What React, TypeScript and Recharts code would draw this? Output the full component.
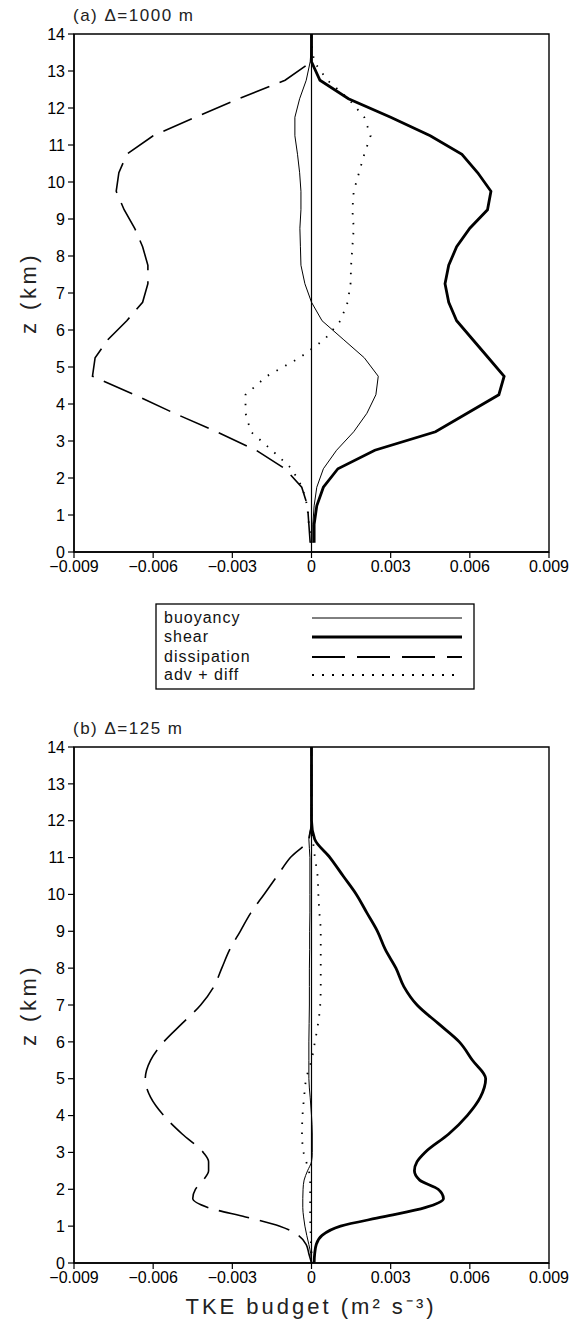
import React from 'react';
import { LineChart, Line, XAxis, YAxis, ReferenceLine, ReferenceArea } from 'recharts';

// ---------- Panel (a) Δ=1000 m ----------
const zA = [0.25, 0.75, 1.25, 1.75, 2.25, 2.75, 3.25, 3.75, 4.25, 4.75, 5.25, 5.75, 6.25, 6.75, 7.25, 7.75, 8.25, 8.75, 9.25, 9.75, 10.25, 10.75, 11.25, 11.75, 12.25, 12.75, 13.25, 13.75, 14];
const buoyA = [0.00005, 0.00005, 0.0001, 0.0002, 0.00045, 0.00095, 0.0016, 0.0021, 0.00244, 0.00253, 0.002, 0.0012, 0.0004, 0.0, -0.00025, -0.0004, -0.00042, -0.00044, -0.0004, -0.0004, -0.00045, -0.00053, -0.00063, -0.00063, -0.00045, -0.0002, -0.00005, 0, 0];
const shearA = [0.0001, 0.0001, 0.0002, 0.00045, 0.001, 0.0024, 0.0047, 0.0059, 0.0071, 0.0073, 0.0067, 0.0061, 0.0055, 0.0052, 0.00506, 0.0052, 0.0055, 0.006, 0.00667, 0.0068, 0.0063, 0.0057, 0.0045, 0.003, 0.0014, 0.00032, 0, 0, 0];
const dissA = [-0.00005, -0.0001, -0.00015, -0.00037, -0.001, -0.0021, -0.0036, -0.0052, -0.0067, -0.0083, -0.0082, -0.0077, -0.007, -0.0064, -0.0062, -0.0062, -0.0064, -0.0067, -0.0071, -0.0074, -0.0073, -0.007, -0.006, -0.0044, -0.00275, -0.001, 0, 0, 0];
const advA = [0, -0.0001, -0.00016, -0.00035, -0.00075, -0.0015, -0.0023, -0.0025, -0.0025, -0.0017, -0.00045, 0.0005, 0.0011, 0.00137, 0.00148, 0.0015, 0.00155, 0.0016, 0.00155, 0.0016, 0.0018, 0.002, 0.00224, 0.002, 0.0014, 0.0006, 0.0001, 0, 0];

// ---------- Panel (b) Δ=125 m ----------
const zB = [0, 0.25, 0.5, 0.75, 1.0, 1.25, 1.5, 1.75, 2.0, 2.25, 2.5, 2.75, 3.0, 3.5, 4.0, 4.5, 5.0, 5.5, 6.0, 6.5, 7.0, 7.5, 8.0, 8.5, 9.0, 9.5, 10.0, 10.5, 11.0, 11.5, 12.0, 13.0, 14.0];
const buoyB = [0, -0.00003, -0.0001, -0.00018, -0.00025, -0.0003, -0.00033, -0.00033, -0.00032, -0.00028, -0.00015, 0, 0.00003, 0.00003, 0, -0.00005, -0.0001, -0.0001, -0.0001, -0.00009, -0.00008, -0.00008, -0.00008, -0.00007, -0.00007, -0.00006, -0.00006, -0.00006, -0.00006, -0.0001, 0, 0, 0];
const shearB = [0.0001, 0.00012, 0.00018, 0.0004, 0.0011, 0.0027, 0.0043, 0.005, 0.0048, 0.0041, 0.0039, 0.004, 0.0043, 0.0052, 0.0059, 0.0064, 0.0066, 0.0061, 0.0056, 0.0048, 0.004, 0.0035, 0.0032, 0.0028, 0.0025, 0.0021, 0.0017, 0.0012, 0.0007, 0.00012, 0, 0, 0];
const dissB = [0, -0.0001, -0.0002, -0.0005, -0.0012, -0.0025, -0.0039, -0.0045, -0.0044, -0.0041, -0.0039, -0.0039, -0.0041, -0.0049, -0.0056, -0.0061, -0.0063, -0.0061, -0.0056, -0.0049, -0.0042, -0.0037, -0.0034, -0.0031, -0.0027, -0.0023, -0.0018, -0.0013, -0.0008, -0.0001, 0, 0, 0];
const advB = [0, 0, -0.00002, -0.00003, -0.00004, -0.00005, -0.00005, -0.00005, -0.00005, -0.00005, -0.0001, -0.0002, -0.0003, -0.00036, -0.00034, -0.00028, -0.0002, 0, 0.00013, 0.00025, 0.00033, 0.00035, 0.00035, 0.00035, 0.00035, 0.0003, 0.00026, 0.00023, 0.00013, 0.00005, 0, 0, 0];

// ---------- Axes & labels ----------
const xTicks = [-0.009, -0.006, -0.003, 0, 0.003, 0.006, 0.009];
const zTicks = [0, 1, 2, 3, 4, 5, 6, 7, 8, 9, 10, 11, 12, 13, 14];
const titleA = '(a) Δ=1000 m';
const titleB = '(b) Δ=125 m';
const yLabel = 'z (km)';
const seriesNames = ['buoyancy', 'shear', 'dissipation', 'adv + diff'];

const rowsA = zA.map((z, i) => ({ z, buoy: buoyA[i], shear: shearA[i], diss: dissA[i], adv: advA[i] }));
const rowsB = zB.map((z, i) => ({ z, buoy: buoyB[i], shear: shearB[i], diss: dissB[i], adv: advB[i] }));

const FONT = '"Liberation Sans", Arial, sans-serif';

const lineStyles = [
  { key: 'buoy', width: 1, dash: undefined as string | undefined },
  { key: 'shear', width: 2.8, dash: undefined as string | undefined },
  { key: 'diss', width: 1.6, dash: '31 11' },
  { key: 'adv', width: 1.8, dash: '1.5 8.5' },
];

const fmtX = (v: number) => (v === 0 ? '0' : (v < 0 ? '\u2212' : '') + Math.abs(v).toFixed(3));

function Panel(props: { data: any[]; curve: 'linear' | 'monotone'; height: number; margin: any }) {
  const { data, curve, height, margin } = props;
  return (
    <LineChart
      width={571}
      height={height}
      data={data}
      layout="vertical"
      margin={margin}
      style={{ fontFamily: FONT }}
    >
      <ReferenceArea x1={-0.009} x2={0.009} y1={0} y2={14} fill="none" stroke="#000" strokeWidth={1.4} fillOpacity={0} ifOverflow="visible" />
      <XAxis
        type="number"
        domain={[-0.009, 0.009]}
        ticks={xTicks}
        tickFormatter={fmtX}
        height={30}
        tickSize={6}
        tickMargin={3}
        axisLine={{ stroke: '#000', strokeWidth: 1.4 }}
        tickLine={{ stroke: '#000', strokeWidth: 1.2 }}
        tick={{ fontSize: 16, fill: '#000', fontFamily: FONT }}
        allowDataOverflow
        interval={0}
      />
      <YAxis
        type="number"
        dataKey="z"
        domain={[0, 14]}
        ticks={zTicks}
        width={40}
        tickSize={6}
        tickMargin={3}
        reversed
        axisLine={{ stroke: '#000', strokeWidth: 1.4 }}
        tickLine={{ stroke: '#000', strokeWidth: 1.2 }}
        tick={{ fontSize: 16, fill: '#000', fontFamily: FONT }}
        allowDataOverflow
        interval={0}
      />
      <ReferenceLine x={0} stroke="#000" strokeWidth={1.2} />
      {lineStyles.map((s) => (
        <Line
          key={s.key}
          dataKey={s.key}
          type={curve}
          stroke="#000"
          strokeWidth={s.width}
          strokeDasharray={s.dash}
          dot={false}
          activeDot={false}
          isAnimationActive={false}
        />
      ))}
    </LineChart>
  );
}

export default function App() {
  return (
    <div style={{ position: 'absolute', left: 0, top: 0, width: 571, height: 1325, background: '#fff', overflow: 'hidden' }}>
      <div style={{ position: 'absolute', left: 0, top: 0 }}>
        <Panel data={rowsA} curve="linear" height={600} margin={{ top: 34, right: 22, bottom: 18, left: 34 }} />
      </div>
      <div style={{ position: 'absolute', left: 0, top: 700 }}>
        <Panel data={rowsB} curve="monotone" height={625} margin={{ top: 47, right: 22, bottom: 32, left: 34 }} />
      </div>
      <svg width={571} height={1325} style={{ position: 'absolute', left: 0, top: 0, pointerEvents: 'none', fontFamily: FONT }}>
        <text x={73} y={21} fontSize={17} letterSpacing={1.5} fill="#222">{titleA}</text>
        <text x={73} y={734} fontSize={17} letterSpacing={1.5} fill="#222">{titleB}</text>
        <text x={30} y={293} fontSize={22} letterSpacing={3.5} fill="#222" textAnchor="middle" dominantBaseline="middle" transform="rotate(-90 30 293)">{yLabel}</text>
        <text x={30} y={1005} fontSize={22} letterSpacing={3.5} fill="#222" textAnchor="middle" dominantBaseline="middle" transform="rotate(-90 30 1005)">{yLabel}</text>
        <text x={311} y={1314} fontSize={22} letterSpacing={3} fill="#222" textAnchor="middle">
          TKE budget (m<tspan>²</tspan> s<tspan>⁻³</tspan>)
        </text>
        <g transform="translate(156,604)">
          <rect x={0} y={0} width={318} height={85} fill="none" stroke="#000" strokeWidth={1.3} />
          {seriesNames.map((name, i) => {
            const cy = [14, 33, 53, 71][i];
            const s = lineStyles[i];
            return (
              <g key={name}>
                <text x={8} y={cy + 5} fontSize={16} letterSpacing={1} fill="#111">{name}</text>
                <line x1={156} x2={306} y1={cy} y2={cy} stroke="#000" strokeWidth={s.width + (i === 2 ? 0.6 : 0)} strokeDasharray={i === 2 ? '33 12' : i === 3 ? '2 8' : undefined} />
              </g>
            );
          })}
        </g>
      </svg>
    </div>
  );
}
